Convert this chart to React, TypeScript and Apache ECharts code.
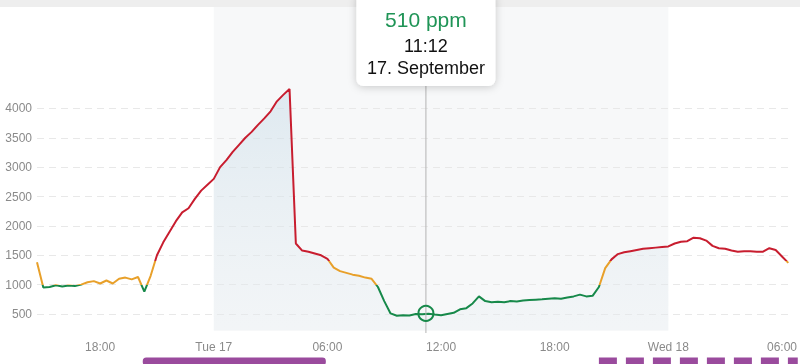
import React, { useEffect, useRef } from 'react';
import * as echarts from 'echarts';

// ---- data ----
const START_TIME = '2024-09-16T14:40:00';
const STEP_MINUTES = 20;
const co2Values = [
  1380, 950, 960, 990, 970, 985, 975, 1000, 1040, 1060,
  1020, 1070, 1020, 1100, 1120, 1090, 1130, 880, 1150, 1500,
  1720, 1900, 2080, 2230, 2300, 2460, 2600, 2700, 2800, 3000,
  3120, 3260, 3380, 3500, 3600, 3720, 3830, 3950, 4120, 4230,
  4330, 1700, 1580, 1560, 1530, 1500, 1440, 1290, 1230, 1200,
  1170, 1150, 1120, 1100, 960, 720, 510, 470, 480, 475,
  500, 495, 505, 490, 480, 500, 520, 580, 600, 680,
  800, 720, 700, 710, 700, 720, 715, 730, 740, 745,
  750, 760, 770, 760, 780, 800, 830, 800, 810, 960,
  1280, 1430, 1520, 1550, 1570, 1590, 1610, 1620, 1630, 1640,
  1650, 1700, 1730, 1740, 1800, 1790, 1750, 1660, 1620, 1610,
  1580, 1560, 1570, 1570, 1560, 1560, 1620, 1590, 1480, 1370,
];
const xTickTimes = [
  '2024-09-16T18:00:00', '2024-09-17T00:00:00', '2024-09-17T06:00:00', '2024-09-17T12:00:00',
  '2024-09-17T18:00:00', '2024-09-18T00:00:00', '2024-09-18T06:00:00',
];
const thresholds = [1000, 1400];
const levelColors = ['#17894a', '#e8a02a', '#c81d2f'];
const dayBand = ['2024-09-17T00:00:00', '2024-09-18T00:00:00'];
const hoverTime = '2024-09-17T11:12:00';
const hoverValue = 510;
const hoverUnit = 'ppm';
const hoverTimeLabel = '11:12';
const hoverDateLabel = '17. September';
const weekdays = ['Sun', 'Mon', 'Tue', 'Wed', 'Thu', 'Fri', 'Sat'];
const sleepSpans = [
  { start: '2024-09-16T20:15:00', end: '2024-09-17T05:55:00', dashed: false },
  { start: '2024-09-17T20:20:00', end: '2024-09-18T06:50:00', dashed: true },
];

const FONT = '"Liberation Sans", Arial, Helvetica, sans-serif';
const pad = (n: number) => (n < 10 ? '0' + n : '' + n);

export default function App() {
  const ref = useRef<HTMLDivElement>(null);
  useEffect(() => {
    if (!ref.current) return;
    const chart = echarts.init(ref.current, null, { renderer: 'svg' });
    const t0 = new Date(START_TIME).getTime();
    const times = co2Values.map((_, i) => t0 + i * STEP_MINUTES * 60000);
    const lineData = co2Values.map((v, i) => [times[i], v]);
    const bandStart = new Date(dayBand[0]).getTime();
    const bandEnd = new Date(dayBand[1]).getTime();
    const bandData = lineData.filter((d) => d[0] >= bandStart && d[0] <= bandEnd);
    const tickValues = xTickTimes.map((s) => new Date(s).getTime());

    chart.setOption({
      animation: false,
      grid: { left: 37, right: 9, top: 79, bottom: 20.6 },
      visualMap: {
        type: 'piecewise',
        show: false,
        dimension: 1,
        seriesIndex: 0,
        pieces: [
          { lt: thresholds[0], color: levelColors[0] },
          { gte: thresholds[0], lt: thresholds[1], color: levelColors[1] },
          { gte: thresholds[1], color: levelColors[2] },
        ],
      },
      xAxis: {
        type: 'value',
        min: times[0],
        max: times[times.length - 1],
        axisLine: { show: false },
        axisTick: { show: false },
        splitLine: { show: false },
        axisLabel: {
          customValues: tickValues,
          color: '#8a8a8a',
          fontSize: 12,
          fontFamily: FONT,
          margin: -2,
          formatter: (val: number) => {
            const d = new Date(val);
            if (d.getHours() === 0 && d.getMinutes() === 0) return weekdays[d.getDay()] + ' ' + d.getDate();
            return pad(d.getHours()) + ':' + pad(d.getMinutes());
          },
        },
      },
      yAxis: {
        type: 'value',
        min: 0,
        max: 4500,
        interval: 500,
        axisLine: { show: false },
        axisTick: { show: false },
        axisLabel: {
          color: '#8a8a8a',
          fontSize: 12,
          fontFamily: FONT,
          margin: 5,
          formatter: (v: number) => (v >= 500 && v <= 4000 ? String(v) : ''),
        },
        splitLine: {
          showMinLine: false,
          showMaxLine: false,
          lineStyle: { color: '#e8e8e8', type: [7, 5], width: 1 },
        },
      },
      series: [
        {
          type: 'line',
          data: lineData,
          showSymbol: false,
          lineStyle: { width: 2 },
          z: 5,
        },
        {
          type: 'line',
          data: bandData,
          showSymbol: false,
          silent: true,
          lineStyle: { width: 0, opacity: 0 },
          areaStyle: {
            origin: 230,
            color: new echarts.graphic.LinearGradient(0, 0, 0, 1, [
              { offset: 0, color: 'rgba(200,220,232,0.75)' },
              { offset: 1, color: 'rgba(228,236,241,0.35)' },
            ]),
          },
          z: 1,
        },
      ],
    });

    const px = (t: number) => chart.convertToPixel({ xAxisIndex: 0 }, t) as number;
    const py = (v: number) => chart.convertToPixel({ yAxisIndex: 0 }, v) as number;
    const hx = px(new Date(hoverTime).getTime());
    const hy = py(hoverValue);
    const bx0 = px(bandStart);
    const bx1 = px(bandEnd);

    const elements: any[] = [
      { type: 'rect', z: -20, shape: { x: 0, y: 0, width: 800, height: 7 }, style: { fill: '#eeeeee' } },
      { type: 'rect', z: -10, shape: { x: bx0, y: 7, width: bx1 - bx0, height: 324 }, style: { fill: '#f7f8f9' } },
      { type: 'line', z: 50, shape: { x1: hx, y1: 86, x2: hx, y2: 333 }, style: { stroke: '#b3b3b3', lineWidth: 1 } },
      { type: 'circle', z: 60, shape: { cx: hx, cy: hy, r: 7.5 }, style: { fill: 'none', stroke: levelColors[0], lineWidth: 2 } },
      {
        type: 'rect', z: 100,
        shape: { x: hx - 69.5, y: -8, width: 139, height: 94, r: 7 },
        style: { fill: '#ffffff', shadowBlur: 8, shadowColor: 'rgba(0,0,0,0.2)', shadowOffsetY: 1 },
      },
      {
        type: 'text', z: 101, x: hx, y: 19,
        style: { text: hoverValue + ' ' + hoverUnit, fill: '#1f9456', fontSize: 21, fontFamily: FONT, align: 'center', verticalAlign: 'middle' },
      },
      {
        type: 'text', z: 101, x: hx, y: 46,
        style: { text: hoverTimeLabel, fill: '#111111', fontSize: 18, fontFamily: FONT, align: 'center', verticalAlign: 'middle' },
      },
      {
        type: 'text', z: 101, x: hx, y: 68,
        style: { text: hoverDateLabel, fill: '#111111', fontSize: 18, fontFamily: FONT, align: 'center', verticalAlign: 'middle' },
      },
    ];
    sleepSpans.forEach((s) => {
      const x0 = px(new Date(s.start).getTime());
      const x1 = px(new Date(s.end).getTime());
      if (s.dashed) {
        elements.push({
          type: 'line', z: 10,
          shape: { x1: x0, y1: 361, x2: x1, y2: 361 },
          style: { stroke: '#9a4b9d', lineWidth: 7, lineDash: [18, 9] },
        });
      } else {
        elements.push({
          type: 'rect', z: 10,
          shape: { x: x0, y: 357.5, width: x1 - x0, height: 8, r: 3.5 },
          style: { fill: '#9a4b9d' },
        });
      }
    });
    chart.setOption({ graphic: { elements } });

    return () => chart.dispose();
  }, []);
  return <div ref={ref} style={{ position: 'fixed', left: 0, top: 0, width: 800, height: 364 }} />;
}
